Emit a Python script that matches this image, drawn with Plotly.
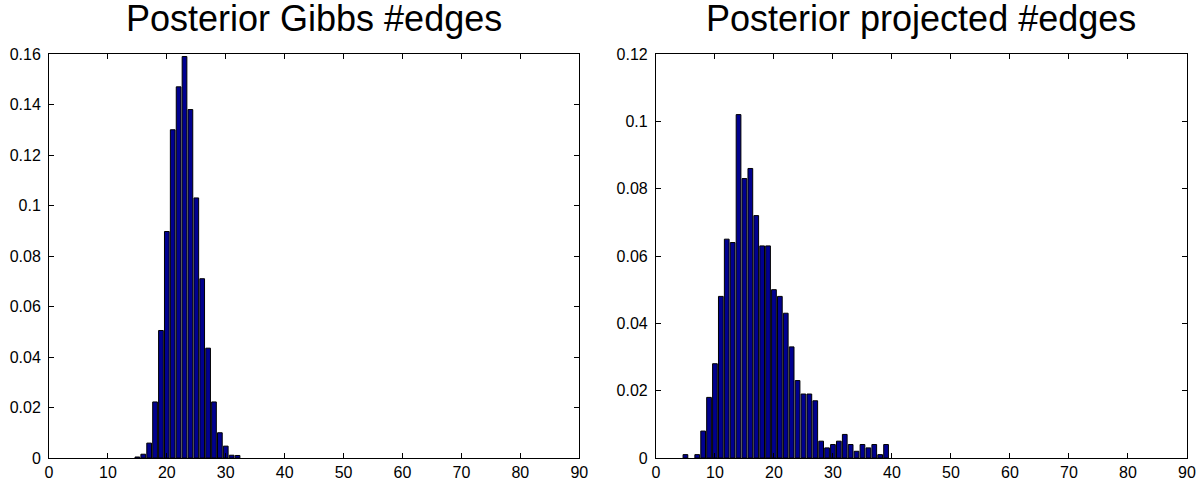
import plotly.graph_objects as go

# ---- data ----
gibbs_edges = list(range(15, 33))
gibbs_prob = [0.0004, 0.0015, 0.0059, 0.0222, 0.0505, 0.0897, 0.130, 0.147, 0.159,
              0.138, 0.103, 0.071, 0.0435, 0.0222, 0.010, 0.0047, 0.0011, 0.0010]

proj_edges = [5, 7] + list(range(8, 40))
proj_prob = [0.001, 0.001,
             0.008, 0.018, 0.028, 0.048, 0.065, 0.064, 0.102, 0.083, 0.086, 0.072,
             0.063, 0.063, 0.050, 0.048, 0.043, 0.033, 0.023, 0.019, 0.019, 0.017,
             0.005, 0.003, 0.004, 0.005, 0.007, 0.004, 0.002, 0.004, 0.003, 0.004,
             0.001, 0.004]

x_ticks = list(range(0, 91, 10))
x_tick_labels = [str(v) for v in x_ticks]
y_ticks_left = [0, 0.02, 0.04, 0.06, 0.08, 0.1, 0.12, 0.14, 0.16]
y_tick_labels_left = ["0", "0.02", "0.04", "0.06", "0.08", "0.1", "0.12", "0.14", "0.16"]
y_ticks_right = [0, 0.02, 0.04, 0.06, 0.08, 0.1, 0.12]
y_tick_labels_right = ["0", "0.02", "0.04", "0.06", "0.08", "0.1", "0.12"]

titles = ["Posterior Gibbs #edges", "Posterior projected #edges"]

BAR_COLOR = "#00008F"
FONT = "Liberation Sans, Arial, Helvetica, sans-serif"

fig = go.Figure()
fig.add_trace(go.Bar(x=gibbs_edges, y=gibbs_prob, width=0.8,
                     marker=dict(color=BAR_COLOR, line=dict(color="black", width=1)),
                     xaxis="x", yaxis="y", showlegend=False))
fig.add_trace(go.Bar(x=proj_edges, y=proj_prob, width=0.8,
                     marker=dict(color=BAR_COLOR, line=dict(color="black", width=1)),
                     xaxis="x2", yaxis="y2", showlegend=False))

W, H = 1203, 484
ml, mr, mt, mb = 48.5, 16, 54, 26
pw = W - ml - mr
ph = H - mt - mb
left_dom = [0, (579 - ml) / pw]
right_dom = [(655.7 - ml) / pw, 1]

common_x = dict(range=[0, 90], tickmode="array", tickvals=x_ticks, ticktext=x_tick_labels,
                ticks="inside", ticklen=5, tickcolor="black", showline=True,
                linecolor="black", linewidth=1, mirror="ticks", showgrid=False,
                zeroline=False, tickfont=dict(family=FONT, size=16, color="black"),
                automargin=False, fixedrange=True)
common_y = dict(ticks="inside", ticklen=5, tickcolor="black", showline=True,
                linecolor="black", linewidth=1, mirror="ticks", showgrid=False,
                zeroline=False, tickfont=dict(family=FONT, size=16, color="black"),
                automargin=False, ticklabelstandoff=4, fixedrange=True, tickmode="array")

fig.update_layout(
    width=W, height=H,
    margin=dict(l=ml, r=mr, t=mt, b=mb, pad=0),
    paper_bgcolor="white", plot_bgcolor="white",
    bargap=0,
    xaxis=dict(domain=left_dom, anchor="y", **common_x),
    yaxis=dict(domain=[0, 1], anchor="x", range=[0, 0.16], tickvals=y_ticks_left,
               ticktext=y_tick_labels_left, **common_y),
    xaxis2=dict(domain=right_dom, anchor="y2", **common_x),
    yaxis2=dict(domain=[0, 1], anchor="x2", range=[0, 0.12], tickvals=y_ticks_right,
                ticktext=y_tick_labels_right, **common_y),
    font=dict(family=FONT, color="black"),
)

for i, t in enumerate(titles):
    fig.add_annotation(text=t, xref="x" if i == 0 else "x2", x=45, yref="paper",
                       y=1 + (mt - 18.5) / ph, yanchor="middle", xanchor="center",
                       showarrow=False, font=dict(family=FONT, size=36, color="black"))

# remove the page's default body margin so the figure sits at the window origin
fig.write_html("out.html",
               config={"displayModeBar": False, "staticPlot": True},
               post_script="document.body.style.margin='0';document.body.style.overflow='hidden';")
